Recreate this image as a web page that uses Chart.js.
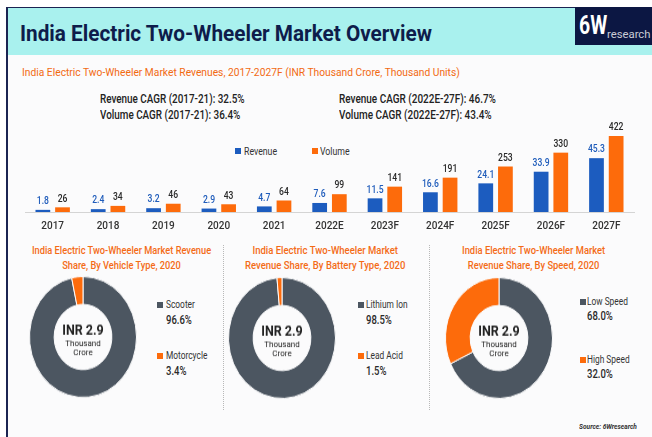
<!DOCTYPE html>
<html lang="en">
<head>
<meta charset="UTF-8">
<title>India Electric Two-Wheeler Market Overview</title>
<script src="https://cdn.jsdelivr.net/npm/chart.js"></script>
<style>
  body { margin: 0; width: 652px; height: 437px; overflow: hidden; background: #fff; position: relative;
         font-family: Roboto, "Noto Sans", sans-serif; color: #2b2b2b; }
  .abs { position: absolute; white-space: nowrap; }
  .frame { position: absolute; left: 6px; top: 7px; width: 646px; height: 430px; background: #fbfbfc;
           border-left: 2px solid #1b2452; border-top: 1px solid #1b2452; }
  .header { position: absolute; left: 8px; top: 8px; width: 644px; height: 47px; background: #a9f1ee; }
  .logo { position: absolute; left: 575px; top: 7px; width: 77px; height: 38px; background: #0c1743; }
  .title { left: 20px; top: 19px; font-size: 22.5px; line-height: 28px; font-weight: bold; color: #0e1c4b; }
  .sub { left: 22px; top: 65px; font-size: 11.5px; line-height: 14px; color: #f26a12; }
  .cagr { font-size: 12px; line-height: 16px; font-weight: 500; color: #222; }
  .c { display: inline-block; transform: scaleX(0.76); transform-origin: left center; }
  .legend { font-size: 11.5px; line-height: 14px; color: #333; }
  .sq { position: absolute; width: 6px; height: 6px; }
  .sec { font-size: 11px; line-height: 15px; color: #f46b17; text-align: center; font-weight: 500; }
  .sep { position: absolute; top: 245px; height: 165px; border-left: 1px dotted #b8b8b8; }
  .lab { font-size: 11px; line-height: 14px; color: #333; }
  .pct { font-size: 12.5px; line-height: 14px; color: #2a2a2a; font-weight: 500; }
  .donut { position: absolute; width: 108px; height: 108px; transform: scaleY(1.13); }
  .src { left: 579px; top: 422px; font-size: 7.5px; line-height: 10px; font-style: italic; color: #333; font-weight: bold; }
</style>
</head>
<body>
<div class="frame"></div>
<div class="header"></div>
<div class="logo">
  <span class="abs" data-w="28" style="left:4px;top:4px;font-size:25px;line-height:30px;font-weight:bold;color:#fff;">6W</span>
  <span class="abs" data-w="44" style="left:32px;top:21px;font-size:10px;line-height:14px;color:#c9cbd6;">research</span>
</div>
<div class="abs title" data-w="412">India Electric Two-Wheeler Market Overview</div>
<div class="abs sub" data-w="438">India Electric Two-Wheeler Market Revenues, 2017-2027F (INR Thousand Crore, Thousand Units)</div>

<div class="abs cagr" data-w="145" style="left:100px;top:91px;">Revenue CAGR (2017-21): 32.5%<br>Volume CAGR (2017-21): 36.4%</div>
<div class="abs cagr" data-w="157" style="left:339px;top:91px;">Revenue CAGR (2022E-27F): 46.7%<br>Volume CAGR (2022E-27F): 43.4%</div>

<div class="sq" style="left:235px;top:148px;background:#1c5cbf"></div>
<div class="abs legend" style="left:244px;top:144px;"><span class="c">Revenue</span></div>
<div class="sq" style="left:312px;top:148px;background:#fd6b0b"></div>
<div class="abs legend" style="left:320px;top:144px;"><span class="c">Volume</span></div>

<div class="abs" style="left:12px;top:118px;width:636px;height:124px;">
  <canvas id="barChart"></canvas>
</div>

<div class="abs sec" data-w="179" style="left:32px;top:243px;">India Electric Two-Wheeler Market Revenue<br>Share, By Vehicle Type, 2020</div>
<div class="abs sec" data-w="160" style="left:245px;top:243px;">India Electric Two-Wheeler Market<br>Revenue Share, By Battery Type, 2020</div>
<div class="abs sec" data-w="143" style="left:462px;top:243px;">India Electric Two-Wheeler Market<br>Revenue Share, By Speed, 2020</div>

<div class="sep" style="left:223px;"></div>
<div class="sep" style="left:429px;"></div>

<div class="donut" style="left:29px;top:283px;"><canvas id="d1" width="108" height="108"></canvas></div>
<div class="donut" style="left:228px;top:284px;"><canvas id="d2" width="108" height="108"></canvas></div>
<div class="donut" style="left:445px;top:284px;"><canvas id="d3" width="108" height="108"></canvas></div>

<div id="legendas"></div>

<div class="abs src" data-w="58">Source: 6Wresearch</div>

<script>
    // dados do gráfico de barras
    const years = ['2017', '2018', '2019', '2020', '2021', '2022E', '2023F', '2024F', '2025F', '2026F', '2027F'];
    const revenue = [1.8, 2.4, 3.2, 2.9, 4.7, 7.6, 11.5, 16.6, 24.1, 33.9, 45.3];
    const volume = [26, 34, 46, 43, 64, 99, 141, 191, 253, 330, 422];

    // dados das roscas (2020)
    const vehicleLabels = ['Scooter', 'Motorcycle'];
    const vehicleShare = [96.6, 3.4];
    const batteryLabels = ['Lithium Ion', 'Lead Acid'];
    const batteryShare = [98.5, 1.5];
    const speedLabels = ['Low Speed', 'High Speed'];
    const speedShare = [68.0, 32.0];
    const centerLines = ['INR 2.9', 'Thousand', 'Crore'];

    const FONT = 'Roboto, "Noto Sans", sans-serif';
    const BLUE = '#1c5cbf';
    const ORANGE = '#fd6b0b';
    const GREY = '#4c5661';

    Chart.defaults.font.family = FONT;
    Chart.defaults.animation = false;

    // rótulos em cima das barras
    const barLabels = {
        id: 'barLabels',
        afterDatasetsDraw(chart) {
            const ctx = chart.ctx;
            chart.data.datasets.forEach((ds, i) => {
                chart.getDatasetMeta(i).data.forEach((bar, j) => {
                    let v = ds.data[j];
                    ctx.save();
                    ctx.fillStyle = ds.labelColor;
                    ctx.font = '500 11px ' + FONT;
                    ctx.textAlign = 'center';
                    ctx.textBaseline = 'bottom';
                    ctx.translate(bar.x, bar.y - 3);
                    ctx.scale(0.78, 1);
                    ctx.fillText(i == 0 ? v.toFixed(1) : v, 0, 0);
                    ctx.restore();
                });
            });
        }
    };

    new Chart(document.getElementById('barChart'), {
        type: 'bar',
        data: {
            labels: years,
            datasets: [
                { label: 'Revenue', data: revenue, backgroundColor: BLUE, labelColor: '#1f5cbb', yAxisID: 'y',
                  categoryPercentage: 0.71, barPercentage: 0.75 },
                { label: 'Volume', data: volume, backgroundColor: ORANGE, labelColor: '#2a2a2a', yAxisID: 'y1',
                  categoryPercentage: 0.71, barPercentage: 0.75 }
            ]
        },
        options: {
            responsive: true,
            maintainAspectRatio: false,
            layout: { padding: { top: 12, bottom: 1, left: 13, right: 14 } },
            plugins: { legend: { display: false }, tooltip: { enabled: false } },
            scales: {
                x: {
                    grid: { display: false, drawTicks: false },
                    border: { display: true, color: '#d4d4d4' },
                    ticks: { padding: 8.5, color: '#333', font: { size: 10, weight: '500' } }
                },
                y: { display: false, min: 0, max: 69 },
                y1: { display: false, min: 0, max: 456 }
            }
        },
        plugins: [barLabels]
    });

    // texto no meio da rosca
    const centerText = {
        id: 'centerText',
        afterDraw(chart) {
            const { ctx, chartArea } = chart;
            const cx = (chartArea.left + chartArea.right) / 2;
            const cy = (chartArea.top + chartArea.bottom) / 2;
            ctx.save();
            ctx.textAlign = 'center';
            ctx.textBaseline = 'middle';
            ctx.fillStyle = '#222';
            ctx.font = 'bold 12.5px ' + FONT;
            ctx.fillText(centerLines[0], cx, cy - 5);
            ctx.font = '8px ' + FONT;
            ctx.fillText(centerLines[1], cx, cy + 5.5);
            ctx.fillText(centerLines[2], cx, cy + 14);
            ctx.restore();
        }
    };

    function rosca(id, labels, values) {
        new Chart(document.getElementById(id), {
            type: 'doughnut',
            data: {
                labels: labels,
                datasets: [{ data: values, backgroundColor: [GREY, ORANGE], borderColor: '#fbfbfc', borderWidth: 1 }]
            },
            options: {
                responsive: false,
                cutout: '54%',
                plugins: { legend: { display: false }, tooltip: { enabled: false } }
            },
            plugins: [centerText]
        });
    }

    // legenda de cada rosca: x do quadrado, x do texto, y (centro) de cada linha
    function legenda(labels, values, sqx, tx, ys) {
        const cores = [GREY, ORANGE];
        let html = '';
        for (let i = 0; i < labels.length; i++) {
            const yl = ys[i * 2], yp = ys[i * 2 + 1];
            html += `<div class="sq" style="left:${sqx}px;top:${yl - 3}px;background:${cores[i]}"></div>`;
            html += `<div class="abs lab" style="left:${tx}px;top:${yl - 7}px;"><span class="c">${labels[i]}</span></div>`;
            html += `<div class="abs pct" style="left:${tx}px;top:${yp - 7}px;"><span class="c">${values[i].toFixed(1)}%</span></div>`;
        }
        document.getElementById('legendas').innerHTML += html;
    }

    rosca('d1', vehicleLabels, vehicleShare);
    rosca('d2', batteryLabels, batteryShare);
    rosca('d3', speedLabels, speedShare);

    legenda(vehicleLabels, vehicleShare, 157, 166, [305, 320, 356, 371]);
    legenda(batteryLabels, batteryShare, 358, 366, [305, 320, 356, 371]);
    legenda(speedLabels, speedShare, 580, 587, [302, 316, 360, 374]);

    // encolhe os textos na largura do original
    function ajustar() {
        document.querySelectorAll('[data-w]').forEach(el => {
            el.style.transform = 'none';
            const s = el.dataset.w / el.offsetWidth;
            el.style.transformOrigin = 'left center';
            el.style.transform = `scaleX(${s})`;
        });
    }
    ajustar();
    document.fonts.ready.then(ajustar);
</script>
</body>
</html>
